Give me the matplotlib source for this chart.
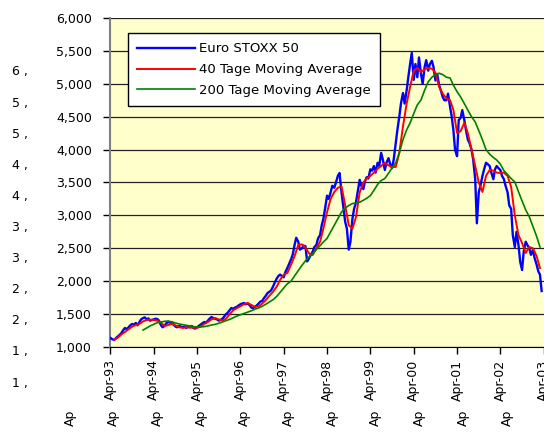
import numpy as np
import pandas as pd
import matplotlib
matplotlib.use("Agg")
import matplotlib.pyplot as plt
import matplotlib.dates as mdates

# Euro STOXX 50 (twice a month, Apr 1993 - Mar 2003)
stoxx = [
    1137, 1120, 1106, 1130, 1160, 1180, 1210, 1250, 1290, 1270, 1300, 1330, 1350, 1340, 1365, 1330, 1380, 1420,
    1440, 1450, 1420, 1435, 1400, 1410, 1420, 1430, 1425, 1400, 1330, 1300, 1320, 1360, 1380, 1370, 1380, 1340, 1310, 1300, 1320, 1310, 1300, 1310,
    1290, 1310, 1300, 1320, 1290, 1280, 1300, 1320, 1340, 1360, 1380, 1370, 1400, 1430, 1456, 1440, 1430, 1420, 1400, 1410, 1430, 1460, 1500, 1520,
    1560, 1593, 1580, 1600, 1610, 1630, 1650, 1660, 1669, 1650, 1660, 1640, 1600, 1590, 1610, 1630, 1660, 1690, 1700, 1740, 1780, 1820, 1840, 1860,
    1920, 1980, 2040, 2080, 2100, 2080, 2060, 2140, 2200, 2260, 2330, 2400, 2550, 2660, 2600, 2480, 2500, 2540, 2530, 2300, 2350, 2400, 2450, 2520,
    2550, 2650, 2700, 2850, 2950, 3100, 3300, 3250, 3350, 3450, 3420, 3500, 3600, 3645, 3350, 3150, 2900, 2800, 2480, 2600, 2950, 3100, 3200, 3350,
    3540, 3450, 3400, 3520, 3580, 3560, 3700, 3680, 3750, 3650, 3800, 3750, 3950, 3850, 3690, 3800, 3870, 3780, 3720, 3850, 4100, 4300, 4500, 4700,
    4860, 4700, 4900, 5100, 5300, 5469, 5060, 5300, 5100, 5400, 5150, 5000, 5250, 5360, 5200, 5300, 5350, 5250, 5050, 5150, 4980, 4900, 4800, 4750,
    4750, 4850, 4650, 4500, 4300, 4000, 3900, 4450, 4480, 4600, 4450, 4300, 4150, 4100, 4000, 3850, 3550, 2880, 3350, 3450, 3600, 3700, 3800, 3780,
    3750, 3650, 3550, 3700, 3750, 3720, 3690, 3600, 3550, 3450, 3350, 3150, 3100, 2700, 2520, 2750, 2550, 2300, 2170, 2450, 2600, 2550, 2500, 2400,
    2480, 2350, 2250, 2150, 2100, 1850,
]

# 40 day moving average, monthly, May 1993 - Mar 2003
ma40 = [
    1110, 1140, 1190, 1228, 1270, 1310, 1334, 1350, 1390, 1410,
    1415, 1410, 1400, 1370, 1320, 1334, 1350, 1330, 1300, 1290,
    1300, 1295, 1295, 1290, 1310, 1350, 1380, 1420, 1441, 1420,
    1400, 1430, 1500, 1560, 1590, 1620, 1650, 1669, 1640, 1610,
    1615, 1660, 1714, 1780, 1840, 1920, 2020, 2100, 2125, 2250,
    2380, 2550, 2560, 2510, 2420, 2398, 2500, 2600, 2800, 3050,
    3250, 3356, 3420, 3440, 3150, 2850, 2800, 2976, 3350, 3500,
    3560, 3600, 3650, 3710, 3750, 3797, 3760, 3736, 3736, 3950,
    4350, 4700, 4950, 5200, 5240, 5180, 5220, 5240, 5230, 5165,
    4952, 4850, 4780, 4754, 4602, 4253, 4280, 4405, 4250, 4000,
    3750, 3500, 3356, 3600, 3690, 3680, 3650, 3645, 3650, 3600,
    3432, 3000, 2700, 2581, 2429, 2520, 2500, 2380, 2200,
]

# 200 day moving average, monthly, Jan 1994 - Mar 2003
ma200 = [
    1258, 1290, 1320, 1345, 1370, 1380, 1390, 1395, 1380, 1365,
    1350, 1340, 1330, 1320, 1310, 1305, 1305, 1310, 1320, 1334,
    1345, 1360, 1380, 1400, 1420, 1445, 1470, 1490, 1510, 1530,
    1550, 1575, 1593, 1620, 1650, 1684, 1720, 1770, 1830, 1897,
    1960, 2000, 2080, 2160, 2240, 2310, 2370, 2420, 2480, 2540,
    2596, 2650, 2750, 2850, 2950, 3050, 3113, 3150, 3180, 3189,
    3200, 3230, 3260, 3300, 3380, 3470, 3530, 3560, 3640, 3720,
    3800, 3949, 4150, 4300, 4405, 4550, 4680, 4754, 4900, 5030,
    5100, 5140, 5160, 5140, 5100, 5089, 4980, 4880, 4800, 4700,
    4600, 4500, 4420, 4290, 4150, 4000, 3930, 3880, 3842, 3780,
    3680, 3620, 3560, 3508, 3360, 3220, 3082, 2980, 2830, 2680,
    2520,
]

stoxx_dates = pd.date_range("1993-04-01", periods=len(stoxx), freq="SMS")
ma40_dates = pd.date_range("1993-05-01", periods=len(ma40), freq="MS")
ma200_dates = pd.date_range("1994-01-01", periods=len(ma200), freq="MS")

tick_dates = pd.date_range("1993-04-01", periods=11, freq="12MS")
ghost_left = ["6 ,", "5 ,", "5 ,", "4 ,", "4 ,", "3 ,", "3 ,", "2 ,", "2 ,", "1 ,", "1 ,"]

fig = plt.figure(figsize=(5.44, 4.32), dpi=100)
ax = fig.add_axes([110 / 544, 1 - 347 / 432, 1 - 110 / 544, 329 / 432])
ax.set_facecolor("#FFFFCC")

ax.plot(stoxx_dates, stoxx, color="#0000FF", lw=1.7, label="Euro STOXX 50", zorder=3)
ax.plot(ma40_dates, ma40, color="#FF0000", lw=1.4, label="40 Tage Moving Average", zorder=4)
ax.plot(ma200_dates, ma200, color="#008000", lw=1.2, label="200 Tage Moving Average", zorder=5)

ax.set_ylim(1000, 6000)
ax.set_yticks(np.arange(1000, 6001, 500))
ax.yaxis.set_major_formatter(matplotlib.ticker.FuncFormatter(lambda v, p: f"{int(v):,}"))
ax.set_xlim(pd.Timestamp("1993-03-28"), pd.Timestamp("2003-04-04"))
ax.set_xticks(tick_dates)
ax.xaxis.set_major_formatter(mdates.DateFormatter("%b-%y"))
plt.setp(ax.get_xticklabels(), rotation=90)
ax.tick_params(axis="both", direction="out", length=5, width=1, labelsize=9, colors="black")
ax.tick_params(axis="y", pad=8)
ax.tick_params(axis="x", pad=4)
ax.grid(axis="y", color="#222222", lw=0.9)
ax.set_axisbelow(True)

ax.spines["left"].set_color("#808080")
ax.spines["left"].set_linewidth(1.5)
ax.spines["bottom"].set_color("black")
ax.spines["top"].set_visible(False)
ax.spines["right"].set_visible(False)

leg = ax.legend(loc="upper left", bbox_to_anchor=(18 / 434, 1 - 15 / 329), fontsize=9.5,
                frameon=True, fancybox=False, edgecolor="black", facecolor="white",
                framealpha=1, handlelength=4.4, labelspacing=0.6, borderpad=0.7,
                handletextpad=0.3, borderaxespad=0)
leg.get_frame().set_linewidth(1.0)

# stray labels of a hidden second axis
for i, s in enumerate(ghost_left):
    fig.text(12 / 544, 1 - (72 + i * 31.1) / 432, s, fontsize=9, va="center", ha="left")
for i in range(11):
    fig.text((70 + i * 43.7) / 544, 1 - 418 / 432, "Ap", fontsize=9, rotation=90,
             va="center", ha="center")

fig.savefig("out.png", dpi=100)
